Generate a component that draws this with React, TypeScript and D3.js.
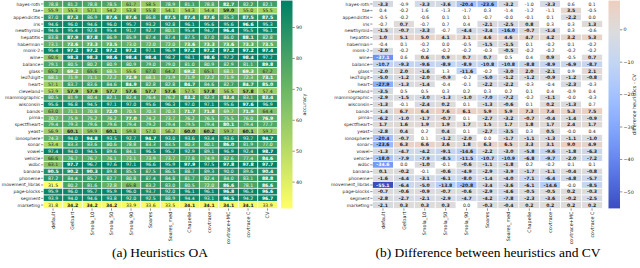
import React from 'react';
import * as d3 from 'd3';

// datasets (rows) and heuristics (columns)
const datasets = [
  'hayes-roth', 'tae', 'appendicitis', 'iris', 'newthyroid', 'hepatitis', 'haberman', 'monk-2',
  'wine', 'balance', 'glass', 'led7digit', 'heart', 'cleveland', 'mammographic', 'wisconsin',
  'bands', 'pima', 'spectfheart', 'yeast', 'ionosphere', 'sonar', 'vowel', 'vehicle', 'wdbc',
  'banana', 'phoneme', 'movement_libras', 'page-blocks', 'segment', 'marketing',
];
const heuristics = [
  'default', 'Gelbart', 'Smola_10', 'Smola_50', 'Smola_90', 'Soares', 'Soares_med',
  'Chapelle', 'covtrace', 'covtrace+MC', 'covtrace C',
];
const oaColumns = [...heuristics, 'CV'];

// overall accuracy per dataset, columns = oaColumns
const oaValues = [
  [78.8, 81.2, 78.8, 78.5, 61.7, 58.5, 78.9, 81.1, 78.8, 82.7, 82.2, 82.1],
  [55.9, 55.3, 57.1, 54.2, 53.8, 55.8, 54.1, 54.3, 54.4, 59.0, 55.0, 55.5],
  [87.0, 87.3, 86.9, 87.6, 87.6, 86.8, 87.5, 87.4, 87.6, 85.3, 87.5, 87.5],
  [94.6, 96.0, 94.6, 96.0, 95.7, 93.2, 92.8, 96.1, 95.6, 95.6, 96.6, 95.3],
  [94.6, 95.4, 92.8, 95.4, 91.7, 92.7, 80.1, 95.4, 94.7, 96.4, 95.5, 96.1],
  [83.8, 87.9, 87.8, 86.9, 85.9, 87.4, 87.4, 87.5, 87.0, 86.0, 88.1, 82.8],
  [73.1, 73.6, 73.3, 73.5, 73.0, 72.0, 72.0, 73.6, 73.3, 73.6, 73.3, 73.5],
  [95.4, 97.2, 97.2, 97.2, 97.2, 97.1, 96.9, 97.2, 97.2, 97.2, 97.2, 97.4],
  [60.6, 98.3, 98.3, 98.6, 98.4, 98.4, 98.2, 98.1, 98.6, 97.2, 98.4, 97.7],
  [79.1, 80.5, 80.2, 80.9, 80.9, 79.0, 79.0, 81.0, 80.9, 82.9, 81.1, 89.8],
  [65.2, 69.2, 65.6, 68.5, 55.6, 67.0, 64.2, 69.2, 65.1, 68.1, 69.3, 67.2],
  [68.1, 71.9, 71.1, 72.2, 72.9, 68.1, 71.9, 71.9, 72.2, 71.9, 72.3, 73.1],
  [57.1, 83.7, 83.6, 84.6, 84.9, 82.8, 82.8, 84.7, 84.6, 82.7, 84.7, 85.0],
  [53.9, 57.9, 57.9, 57.7, 57.6, 57.7, 57.6, 57.5, 57.8, 56.5, 57.8, 57.4],
  [80.5, 81.9, 80.4, 82.1, 82.4, 76.4, 76.2, 83.2, 82.3, 83.4, 83.1, 83.4],
  [95.6, 96.8, 94.5, 97.1, 97.0, 95.6, 96.3, 97.0, 97.1, 95.6, 97.6, 96.9],
  [63.0, 71.1, 70.8, 72.0, 70.5, 70.3, 70.3, 71.7, 71.8, 69.7, 71.9, 64.4],
  [70.7, 75.9, 75.2, 76.2, 77.0, 74.2, 73.7, 76.2, 76.5, 75.5, 76.0, 76.9],
  [79.4, 79.3, 79.6, 79.6, 79.4, 79.2, 79.4, 79.5, 79.4, 80.1, 79.4, 77.7],
  [56.9, 60.1, 59.9, 60.1, 59.8, 57.0, 56.2, 60.0, 60.2, 59.7, 60.1, 59.7],
  [74.3, 94.0, 94.8, 93.5, 92.7, 94.7, 93.0, 93.6, 93.4, 93.6, 93.7, 94.7],
  [53.4, 83.3, 83.6, 80.6, 78.8, 83.3, 83.5, 80.3, 80.1, 86.0, 81.9, 77.0],
  [97.4, 94.0, 94.5, 89.6, 84.1, 96.5, 95.7, 92.9, 89.1, 96.9, 92.4, 98.7],
  [66.6, 76.7, 76.7, 76.1, 73.1, 73.9, 73.7, 77.8, 74.9, 82.6, 77.4, 84.6],
  [63.1, 97.7, 96.7, 97.6, 97.1, 96.6, 95.9, 97.9, 97.5, 97.8, 97.8, 97.7],
  [90.5, 90.2, 90.3, 89.8, 85.5, 87.5, 86.5, 88.7, 89.3, 90.0, 89.6, 90.4],
  [87.2, 84.4, 85.7, 82.7, 80.8, 87.4, 84.8, 81.7, 82.4, 84.0, 83.1, 88.8],
  [31.5, 80.2, 81.6, 72.8, 65.8, 83.2, 83.0, 80.5, 72.0, 86.6, 78.1, 86.6],
  [95.9, 96.0, 95.7, 95.9, 96.0, 93.7, 92.0, 96.1, 96.1, 96.8, 96.3, 96.6],
  [93.9, 94.0, 94.6, 93.8, 92.0, 92.5, 88.9, 94.4, 93.1, 96.5, 94.2, 96.7],
  [31.8, 34.2, 34.2, 34.2, 33.9, 33.6, 33.5, 34.1, 34.1, 34.1, 34.1, 33.9],
];

// heuristic minus CV, columns = heuristics
const diffValues = [
  [-3.3, -0.9, -3.3, -3.6, -20.4, -23.6, -3.2, -1.0, -3.3, 0.6, 0.1],
  [0.4, -0.2, 1.6, -1.3, -1.7, 0.3, -1.4, -1.2, -1.1, 3.5, -0.5],
  [-0.5, -0.2, -0.6, 0.1, 0.1, -0.7, -0.0, -0.1, 0.1, -2.2, 0.0],
  [-0.7, 0.7, -0.7, 0.7, 0.4, -2.1, -2.5, 0.8, 0.3, 0.3, 1.3],
  [-1.5, -0.7, -3.3, -0.7, -4.4, -3.4, -16.0, -0.7, -1.4, 0.3, -0.6],
  [1.0, 5.1, 5.0, 4.1, 3.1, 4.6, 4.6, 4.7, 4.2, 3.2, 5.3],
  [-0.4, 0.1, -0.2, 0.0, -0.5, -1.5, -1.5, 0.1, -0.2, 0.1, -0.2],
  [-2.0, -0.2, -0.2, -0.2, -0.2, -0.3, -0.5, -0.2, -0.2, -0.2, -0.2],
  [-37.1, 0.6, 0.6, 0.9, 0.7, 0.7, 0.5, 0.4, 0.9, -0.5, 0.7],
  [-10.7, -9.3, -9.6, -8.9, -8.9, -10.8, -10.8, -8.8, -8.9, -6.9, -8.7],
  [-2.0, 2.0, -1.6, 1.3, -11.6, -0.2, -3.0, 2.0, -2.1, 0.9, 2.1],
  [-5.0, -1.2, -2.0, -0.9, -0.2, -5.0, -1.2, -1.2, -0.9, -1.2, -0.8],
  [-27.9, -1.3, -1.4, -0.4, -0.1, -2.2, -2.2, -0.3, -0.4, -2.3, -0.3],
  [-3.5, 0.5, 0.5, 0.3, 0.2, 0.3, 0.2, 0.1, 0.4, -0.9, 0.4],
  [-2.9, -1.5, -3.0, -1.3, -1.0, -7.0, -7.2, -0.2, -1.1, -0.0, -0.3],
  [-1.3, -0.1, -2.4, 0.2, 0.1, -1.3, -0.6, 0.1, 0.2, -1.3, 0.7],
  [-1.4, 6.7, 6.4, 7.6, 6.1, 5.9, 5.9, 7.3, 7.4, 5.3, 7.5],
  [-6.2, -1.0, -1.7, -0.7, 0.1, -2.7, -3.2, -0.7, -0.4, -1.4, -0.9],
  [1.7, 1.6, 1.9, 1.9, 1.7, 1.5, 1.7, 1.8, 1.7, 2.4, 1.7],
  [-2.8, 0.4, 0.2, 0.4, 0.1, -2.7, -3.5, 0.3, 0.5, -0.0, 0.4],
  [-20.4, -0.7, 0.1, -1.2, -2.0, 0.0, -1.7, -1.1, -1.3, -1.1, -1.0],
  [-23.6, 6.3, 6.6, 3.6, 1.8, 6.3, 6.5, 3.3, 3.1, 9.0, 4.9],
  [-1.3, -4.7, -4.2, -9.1, -14.6, -2.2, -3.0, -5.8, -9.6, -1.8, -6.3],
  [-18.0, -7.9, -7.9, -8.5, -11.5, -10.7, -10.9, -6.8, -9.7, -2.0, -7.2],
  [-34.6, 0.0, -1.0, -0.1, -0.6, -1.1, -1.8, 0.2, -0.2, 0.1, 0.1],
  [0.1, -0.2, -0.1, -0.6, -4.9, -2.9, -3.9, -1.7, -1.1, -0.4, -0.8],
  [-1.6, -4.4, -3.1, -6.1, -8.0, -1.4, -4.0, -7.1, -6.4, -4.8, -5.7],
  [-55.1, -6.4, -5.0, -13.8, -20.8, -3.4, -3.6, -6.1, -14.6, -0.0, -8.5],
  [-0.7, -0.6, -0.9, -0.7, -0.6, -2.9, -4.6, -0.5, -0.5, 0.2, -0.3],
  [-2.8, -2.7, -2.1, -2.9, -4.7, -4.2, -7.8, -2.3, -3.6, -0.2, -2.5],
  [-2.1, 0.3, 0.3, 0.3, 0.0, -0.3, -0.4, 0.2, 0.2, 0.2, 0.2],
];

// 1 = significant difference (coloured, bold), 0 = not significant (blank cell)
const diffSignificant = [
  '10111110100', '00000000010', '00000000010', '01000111001', '11101111100', '11111111111',
  '00000110000', '10000010000', '10111100101', '11111111111', '11101011101', '11110111111',
  '11100110010', '10000000000', '11111110100', '10110110110', '11111111111', '11110111111',
  '11111111111', '11010110100', '11011011111', '11111111111', '11111111111', '11111111111',
  '10101110000', '11011111111', '11111111111', '11111111101', '11111111111', '11111111111',
  '11110111111',
];

const oaTicks = [40, 50, 60, 70, 80, 90];
const diffTicks = [0, -10, -20, -30, -40, -50];

const coolwarmStops = [
  '#3b4cc0', '#5a78e4', '#7b9ff9', '#9ebeff', '#c0d4f5', '#dddcdc',
  '#f2cbb7', '#f7ac8e', '#ee8468', '#d65244', '#b40426',
];

const FONT = 'DejaVu Sans, sans-serif';
const TXT = '#262626';

// seaborn picks annotation colour from the cell's luminance
const textOn = (c: string) => {
  const rgb = d3.rgb(c);
  const lin = (v: number) => {
    const s = v / 255;
    return s <= 0.03928 ? s / 12.92 : Math.pow((s + 0.055) / 1.055, 2.4);
  };
  const lum = 0.2126 * lin(rgb.r) + 0.7152 * lin(rgb.g) + 0.0722 * lin(rgb.b);
  return lum > 0.408 ? TXT : '#ffffff';
};

const fmt = (v: number) => (v < 0 || Object.is(v, -0) ? '-' + Math.abs(v).toFixed(1) : v.toFixed(1));

const App = () => {
  const top = 0.6;
  const bottom = 208.4;
  const labelSize = 4.85;
  const rowLabelSize = 4.45;

  const y = d3.scaleBand().domain(datasets).range([top, bottom]);

  // left heatmap
  const xL = d3.scaleBand().domain(oaColumns).range([43.3, 277.3]);
  const oaExtent = d3.extent(oaValues.flat()) as [number, number];
  // summer_r
  const oaColor = d3.scaleLinear<string>().domain(oaExtent).range(['#ffff66', '#008066']);
  const oaBar = d3.scaleLinear().domain(oaExtent).range([bottom, top]);

  // right heatmap
  const xR = d3.scaleBand().domain(heuristics).range([372.5, 602.5]);
  const diffExtent = d3.extent(diffValues.flat()) as [number, number];
  const vr = Math.max(Math.abs(diffExtent[0]), Math.abs(diffExtent[1]));
  const diffColor = d3
    .scaleLinear<string>()
    .domain(d3.range(coolwarmStops.length).map(i => -vr + (2 * vr * i) / (coolwarmStops.length - 1)))
    .range(coolwarmStops);
  const diffBar = d3.scaleLinear().domain(diffExtent).range([bottom, top]);

  const cbL = { x: 281, w: 11.5 };
  const cbR = { x: 608.5, w: 11.5 };

  const rightStops = d3.range(21).map(i => {
    const v = diffExtent[1] - (i / 20) * (diffExtent[1] - diffExtent[0]);
    return { off: i / 20, color: diffColor(v) };
  });

  return (
    <svg width={640} height={268} style={{ position: 'absolute', left: 0, top: 0, background: '#fff' }}>
      <defs>
        <linearGradient id="oaGrad" x1="0" y1="0" x2="0" y2="1">
          <stop offset="0" stopColor={oaColor(oaExtent[1])} />
          <stop offset="1" stopColor={oaColor(oaExtent[0])} />
        </linearGradient>
        <linearGradient id="diffGrad" x1="0" y1="0" x2="0" y2="1">
          {rightStops.map((s, i) => (
            <stop key={i} offset={s.off} stopColor={s.color} />
          ))}
        </linearGradient>
      </defs>

      {/* (a) accuracy heatmap */}
      <g>
        {oaValues.map((row, r) => {
          const best = d3.max(row) as number;
          return row.map((v, c) => {
            const fill = oaColor(v);
            const x = xL(oaColumns[c]) as number;
            const yy = y(datasets[r]) as number;
            return (
              <g key={`a${r}-${c}`}>
                <rect x={x} y={yy} width={xL.bandwidth()} height={y.bandwidth()} fill={fill} stroke="#fff" strokeWidth={0.7} />
                <text
                  x={x + xL.bandwidth() / 2}
                  y={yy + y.bandwidth() / 2}
                  dy="0.35em"
                  textAnchor="middle"
                  fontFamily={FONT}
                  fontSize={4.6}
                  fontWeight={best - v <= 0.3 ? 'bold' : 'normal'}
                  fill={textOn(fill)}
                >
                  {fmt(v)}
                </text>
              </g>
            );
          });
        })}
        {datasets.map(d => {
          const yy = (y(d) as number) + y.bandwidth() / 2;
          return (
            <g key={`la${d}`}>
              <line x1={41} x2={43.3} y1={yy} y2={yy} stroke={TXT} strokeWidth={0.5} />
              <text x={40.2} y={yy} dy="0.35em" textAnchor="end" fontFamily={FONT} fontSize={rowLabelSize} fill={TXT}>
                {d}
              </text>
            </g>
          );
        })}
        {oaColumns.map(h => {
          const xx = (xL(h) as number) + xL.bandwidth() / 2;
          return (
            <g key={`ca${h}`}>
              <line x1={xx} x2={xx} y1={bottom} y2={bottom + 2.3} stroke={TXT} strokeWidth={0.5} />
              <text
                transform={`translate(${xx},${bottom + 3.3}) rotate(-90)`}
                dy="0.35em"
                textAnchor="end"
                fontFamily={FONT}
                fontSize={labelSize}
                fill={TXT}
              >
                {h}
              </text>
            </g>
          );
        })}
        <rect x={cbL.x} y={top} width={cbL.w} height={bottom - top} fill="url(#oaGrad)" />
        {oaTicks.map(t => (
          <g key={`ta${t}`}>
            <line x1={cbL.x + cbL.w} x2={cbL.x + cbL.w + 2.3} y1={oaBar(t)} y2={oaBar(t)} stroke={TXT} strokeWidth={0.5} />
            <text x={cbL.x + cbL.w + 3.5} y={oaBar(t)} dy="0.35em" fontFamily={FONT} fontSize={labelSize} fill={TXT}>
              {t}
            </text>
          </g>
        ))}
        <text
          transform={`translate(306,${(top + bottom) / 2}) rotate(-90)`}
          textAnchor="middle"
          fontFamily={FONT}
          fontSize={labelSize}
          fill={TXT}
        >
          accuracy
        </text>
        <text x={160} y={257} textAnchor="middle" fontFamily="Liberation Serif, serif" fontSize={13.5} fill="#000">
          (a) Heuristics OA
        </text>
      </g>

      {/* (b) difference heatmap */}
      <g>
        {diffValues.map((row, r) =>
          row.map((v, c) => {
            const sig = diffSignificant[r][c] === '1';
            const fill = sig ? diffColor(v) : '#ffffff';
            const x = xR(heuristics[c]) as number;
            const yy = y(datasets[r]) as number;
            return (
              <g key={`b${r}-${c}`}>
                <rect x={x} y={yy} width={xR.bandwidth()} height={y.bandwidth()} fill={fill} stroke="#fff" strokeWidth={0.7} />
                <text
                  x={x + xR.bandwidth() / 2}
                  y={yy + y.bandwidth() / 2}
                  dy="0.35em"
                  textAnchor="middle"
                  fontFamily={FONT}
                  fontSize={4.6}
                  fontWeight={sig ? 'bold' : 'normal'}
                  fill={textOn(fill)}
                >
                  {fmt(v)}
                </text>
              </g>
            );
          })
        )}
        {datasets.map(d => {
          const yy = (y(d) as number) + y.bandwidth() / 2;
          return (
            <g key={`lb${d}`}>
              <line x1={370.2} x2={372.5} y1={yy} y2={yy} stroke={TXT} strokeWidth={0.5} />
              <text x={369.4} y={yy} dy="0.35em" textAnchor="end" fontFamily={FONT} fontSize={rowLabelSize} fill={TXT}>
                {d}
              </text>
            </g>
          );
        })}
        {heuristics.map(h => {
          const xx = (xR(h) as number) + xR.bandwidth() / 2;
          return (
            <g key={`cb${h}`}>
              <line x1={xx} x2={xx} y1={bottom} y2={bottom + 2.3} stroke={TXT} strokeWidth={0.5} />
              <text
                transform={`translate(${xx},${bottom + 3.3}) rotate(-90)`}
                dy="0.35em"
                textAnchor="end"
                fontFamily={FONT}
                fontSize={labelSize}
                fill={TXT}
              >
                {h}
              </text>
            </g>
          );
        })}
        <rect x={cbR.x} y={top} width={cbR.w} height={bottom - top} fill="url(#diffGrad)" />
        {diffTicks.map(t => (
          <g key={`tb${t}`}>
            <line x1={cbR.x + cbR.w} x2={cbR.x + cbR.w + 2.3} y1={diffBar(t)} y2={diffBar(t)} stroke={TXT} strokeWidth={0.5} />
            <text x={cbR.x + cbR.w + 3.5} y={diffBar(t)} dy="0.35em" fontFamily={FONT} fontSize={labelSize} fill={TXT}>
              {t < 0 ? '\u2212' + Math.abs(t) : t}
            </text>
          </g>
        ))}
        <text
          transform={`translate(636,${(top + bottom) / 2}) rotate(-90)`}
          textAnchor="middle"
          fontFamily={FONT}
          fontSize={labelSize}
          fill={TXT}
        >
          difference heuristics - CV
        </text>
        <text x={488} y={257} textAnchor="middle" fontFamily="Liberation Serif, serif" fontSize={13.5} fill="#000">
          (b) Difference between heuristics and CV
        </text>
      </g>
    </svg>
  );
};

export default App;
